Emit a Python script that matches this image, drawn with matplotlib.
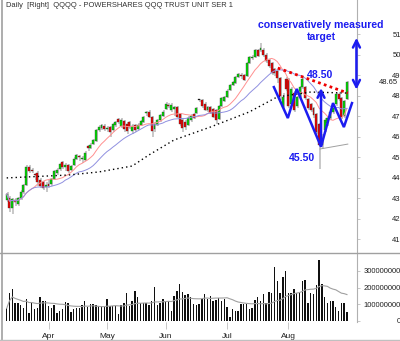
import matplotlib
matplotlib.use("Agg")
import matplotlib.pyplot as plt
import numpy as np
import pandas as pd
from matplotlib.lines import Line2D

plt.rcParams["font.family"] = ["Liberation Sans", "DejaVu Sans"]

# daily bars, QQQQ, mid March -> end of August
opens = [42.9, 43.0, 42.5, 42.9, 42.7, 43.0, 43.3, 43.65, 44.5, 44.35,
         44.15, 44.2, 43.9, 43.8, 43.55, 43.7, 43.7, 43.95, 44.2, 44.4,
         44.75, 44.5, 44.6, 44.35, 44.6, 44.9, 45.05, 44.9, 44.85, 45.55,
         45.45, 45.65, 45.8, 46.3, 46.4, 46.5, 46.35, 46.45, 46.3, 46.55,
         46.85, 46.5, 46.75, 46.6, 46.7, 46.25, 46.55, 46.35, 46.55, 46.7,
         47.15, 47.2, 46.95, 46.35, 46.55, 46.8, 47.0, 47.35, 47.55, 47.3,
         47.35, 47.45, 47.1, 46.8, 46.7, 46.55, 46.8, 47.1, 47.15, 47.78,
         47.8, 47.6, 47.3, 47.45, 47.35, 47.3, 46.85, 47.5, 47.75, 47.95,
         48.25, 48.5, 48.6, 48.9, 49.0, 49.0, 48.95, 49.6, 49.85, 49.9,
         50.2, 50.2, 50.2, 50.0, 49.75, 49.6, 49.3, 49.2, 48.85, 47.45,
         48.8, 48.8, 47.6, 48.1, 47.5, 47.95, 48.4, 48.4, 47.85, 47.6,
         47.4, 47.1, 46.6, 45.6, 46.3, 46.65, 46.9, 47.2, 47.6, 48.05,
         47.9, 47.0, 47.85]
highs = [43.3, 43.1, 43.0, 43.0, 43.05, 43.4, 43.7, 44.6, 44.6, 44.45,
         44.2, 44.3, 44.0, 43.85, 43.8, 43.9, 44.0, 44.35, 44.45, 44.7,
         44.8, 44.7, 44.65, 44.6, 45.0, 45.15, 45.1, 45.05, 45.3, 45.6,
         45.7, 45.9, 46.35, 46.55, 46.6, 46.6, 46.5, 46.5, 46.65, 46.75,
         46.9, 46.9, 46.8, 46.7, 46.75, 46.6, 46.6, 46.65, 46.8, 47.0,
         47.25, 47.3, 47.0, 46.7, 46.85, 47.1, 47.3, 47.7, 47.65, 47.65,
         47.5, 47.5, 47.15, 46.9, 46.8, 47.0, 47.1, 47.15, 47.45, 47.85,
         47.85, 47.7, 47.5, 47.5, 47.4, 47.35, 47.55, 47.95, 48.0, 48.3,
         48.55, 48.7, 48.95, 49.1, 49.1, 49.05, 49.65, 49.95, 50.0, 50.25,
         50.25, 50.55, 50.3, 50.05, 49.8, 49.65, 49.35, 49.25, 48.9, 48.1,
         48.9, 48.85, 48.4, 48.2, 48.0, 48.45, 48.9, 48.45, 47.9, 47.65,
         47.45, 47.15, 46.65, 46.1, 46.9, 47.0, 47.3, 47.6, 48.1, 48.15,
         47.95, 47.8, 48.7]
lows = [42.8, 42.3, 42.2, 42.6, 42.6, 42.9, 43.2, 43.6, 44.2, 44.2,
        43.9, 43.6, 43.5, 43.4, 43.3, 43.5, 43.6, 43.9, 44.1, 44.3,
        44.4, 44.3, 44.2, 44.3, 44.55, 44.85, 44.8, 44.7, 44.8, 45.3,
        45.4, 45.6, 45.75, 46.2, 46.3, 46.25, 46.2, 46.0, 46.2, 46.45,
        46.6, 46.4, 46.2, 46.1, 46.35, 46.1, 46.2, 46.3, 46.5, 46.65,
        47.0, 46.9, 46.0, 46.2, 46.5, 46.7, 46.95, 47.3, 47.4, 47.2,
        47.0, 46.9, 46.5, 46.2, 46.3, 46.5, 46.7, 46.85, 47.1, 47.7,
        47.4, 47.25, 47.2, 47.1, 46.9, 46.6, 46.8, 47.45, 47.7, 47.9,
        48.2, 48.45, 48.55, 48.85, 48.8, 48.7, 48.9, 49.55, 49.75, 49.85,
        49.9, 50.1, 49.9, 49.6, 49.35, 49.0, 48.95, 48.6, 47.8, 47.3,
        48.2, 47.4, 47.5, 47.2, 47.4, 47.9, 48.3, 47.8, 47.3, 47.2,
        46.9, 46.1, 44.4, 45.4, 46.2, 46.5, 46.8, 47.1, 47.5, 47.75,
        46.85, 46.9, 47.8]
closes = [43.2, 42.5, 42.95, 42.8, 43.0, 43.3, 43.65, 44.5, 44.3, 44.3,
          44.1, 43.8, 43.6, 43.5, 43.65, 43.6, 43.95, 44.3, 44.35, 44.65,
          44.5, 44.6, 44.3, 44.55, 44.9, 45.1, 45.0, 44.95, 45.2, 45.45,
          45.6, 45.85, 46.3, 46.45, 46.55, 46.35, 46.4, 46.2, 46.6, 46.7,
          46.7, 46.8, 46.35, 46.25, 46.45, 46.5, 46.3, 46.55, 46.75, 46.95,
          47.2, 46.95, 46.25, 46.6, 46.8, 47.05, 47.2, 47.6, 47.5, 47.55,
          47.45, 46.95, 46.6, 46.4, 46.45, 46.9, 47.0, 46.9, 47.4, 47.8,
          47.5, 47.3, 47.45, 47.15, 46.95, 46.8, 47.5, 47.9, 47.95, 48.2,
          48.5, 48.65, 48.9, 49.05, 48.95, 48.75, 49.6, 49.9, 49.9, 50.2,
          49.95, 50.3, 50.0, 49.7, 49.45, 49.1, 49.1, 48.85, 48.0, 47.95,
          48.3, 47.5, 48.3, 47.3, 47.95, 48.4, 48.8, 47.9, 47.4, 47.3,
          47.05, 46.2, 45.6, 45.9, 46.8, 46.9, 47.2, 47.55, 48.05, 47.85,
          46.95, 47.75, 48.65]
volumes_m = [76, 166, 190, 110, 106, 96, 76, 130, 46, 110,
             70, 76, 142, 122, 118, 92, 76, 96, 50, 60,
             70, 112, 106, 56, 70, 76, 76, 96, 118, 86,
             102, 102, 96, 92, 92, 90, 130, 90, 92, 90,
             40, 96, 110, 170, 92, 118, 178, 146, 110, 110,
             110, 96, 118, 202, 96, 106, 130, 118, 122, 60,
             152, 182, 220, 176, 158, 162, 146, 102, 96, 102,
             130, 162, 130, 150, 122, 126, 136, 118, 130, 86,
             26, 70, 60, 60, 102, 102, 102, 70, 76, 126,
             146, 118, 162, 106, 176, 170, 322, 242, 170, 262,
             302, 170, 166, 190, 166, 166, 242, 246, 110, 170,
             162, 216, 366, 222, 146, 110, 118, 118, 86, 60,
             106, 110, 56]

# 50 day average, read at a few bars (needs history before the window)
ma50_idx = [0, 22, 33, 45, 51, 60, 73, 87, 97, 109, 122]
ma50_val = [43.98, 44.12, 44.27, 44.56, 45.1, 45.83, 46.46, 47.2, 47.93, 48.17, 48.12]

month_idx = [15, 36, 57, 79, 101]
month_names = ["Apr", "May", "Jun", "Jul", "Aug"]
price_ticks = [41, 42, 43, 44, 45, 46, 47, 48, 49, 50, 51]
vol_ticks = [0, 100000000, 200000000, 300000000]
last_close = 48.65

# head & shoulders sketch
pattern_idx = [95.8, 100.8, 104.0, 112.7, 117.0, 120.9, 123.8]
pattern_val = [48.41, 46.90, 48.32, 45.50, 47.63, 46.46, 47.63]
neck_idx = [97.2, 122.3]
neck_val = [49.34, 48.12]
support_idx = [112.3, 122.3]
support_val = [45.39, 45.63]
head_low, head_high = 45.50, 48.50
target_low, target_high = 48.15, 50.95

BLUE = "#1c1cf0"
GREEN = "#00dd00"
RED = "#ee0000"

W, H = 400, 341
fig = plt.figure(figsize=(W / 100, H / 100), dpi=100)


def px_box(x0, y0, x1, y1):
    return [x0 / W, 1 - y1 / H, (x1 - x0) / W, (y1 - y0) / H]


ax = fig.add_axes(px_box(2, 0, 357, 252))
axv = fig.add_axes(px_box(2, 254, 357, 322), sharex=ax)

n = len(closes)
x = np.arange(n)
o = np.array(opens)
c = np.array(closes)
hi = np.array(highs)
lo = np.array(lows)

# candles
ax.vlines(x + 0.35, lo, hi, color="#c4c4c4", lw=1.3, zorder=2)
body_lo = np.minimum(o, c)
body_h = np.maximum(np.abs(c - o), 0.03)
cols = np.where(np.abs(c - o) < 0.04, "black", np.where(c > o, GREEN, RED))
ax.bar(x, body_h, bottom=body_lo, width=0.7, color=cols,
       edgecolor="#303030", linewidth=0.25, zorder=3)

s = pd.Series(closes)
ax.plot(x, s.rolling(10, min_periods=1).mean(), color="#ff9090", lw=0.7, zorder=4)
ax.plot(x, s.rolling(20, min_periods=1).mean(), color="#9090e0", lw=0.7, zorder=4)
ax.plot(ma50_idx, ma50_val, color="black", lw=1.0, ls=(0, (1, 2.2)), zorder=4)

# pattern annotations
blue_txt = dict(color=BLUE, fontsize=7.6, fontweight="bold")
ax.plot(neck_idx, neck_val, color=RED, lw=2.0, ls=(0, (1, 1.2)), zorder=5)
ax.plot(support_idx, support_val, color="#a0a0a0", lw=0.7, zorder=4)
ax.plot(pattern_idx, pattern_val, color=BLUE, lw=1.8, zorder=6,
        solid_joinstyle="miter")
ax.annotate("", xy=(pattern_idx[3], head_high), xytext=(pattern_idx[3], head_low),
            arrowprops=dict(arrowstyle="->,head_length=0.5,head_width=0.25",
                            color=BLUE, lw=1.8), zorder=6)
ax.annotate("", xy=(125.4, target_high), xytext=(125.4, target_low),
            arrowprops=dict(arrowstyle="<->,head_length=0.5,head_width=0.25",
                            color=BLUE, lw=1.8), annotation_clip=False, zorder=6)
ax.text(107.6, 49.0, f"{head_high:.2f}", ha="left", va="center", **blue_txt)
ax.text(110.5, 44.95, f"{head_low:.2f}", ha="right", va="center", **blue_txt)
ax.text(112.5, 51.44, "conservatively measured", ha="center", va="center", **blue_txt)
ax.text(112.7, 50.85, "target", ha="center", va="center", **blue_txt)

ax.set_xlim(-1.68, 125.6)
ax.set_ylim(40.366, 52.659)

# volume
axv.bar(x, np.array(volumes_m) * 1e6, width=0.5, color="#101010", zorder=3)
vma = pd.Series(volumes_m).rolling(20, min_periods=1).mean() * 1e6
axv.plot(x, vma, color="#a0a0a0", lw=0.8, zorder=4)
axv.set_ylim(-6e6, 4.012e8)

for a in (ax, axv):
    for side in ("top", "left", "bottom"):
        a.spines[side].set_visible(False)
    a.spines["right"].set_color("#b0b0b0")
    a.spines["right"].set_linewidth(0.8)
    a.yaxis.tick_right()
    a.tick_params(axis="y", direction="out", length=2, width=0.5,
                  colors="#b0b0b0", labelcolor="#202020", labelsize=5.5, pad=29.5)
ax.spines["right"].set_linestyle((0, (1, 1)))

ax.set_yticks(price_ticks)
ax.set_yticklabels([str(t) for t in price_ticks], ha="right")
axv.set_yticks(vol_ticks)
axv.set_yticklabels([str(t) for t in vol_ticks], ha="right")
ax.text((398 - 2) / 355, last_close, f"{last_close:.2f}", fontsize=5.5,
        color="#202020", ha="right", va="center", clip_on=False,
        transform=ax.get_yaxis_transform())

ax.tick_params(axis="x", bottom=False, labelbottom=False)
axv.set_xticks(month_idx)
axv.set_xticklabels(month_names)
axv.tick_params(axis="x", direction="out", length=5, width=0.5, colors="#b0b0b0",
                labelcolor="#202020", labelsize=6, pad=3)

# panel frame lines
fig.add_artist(Line2D([1.5 / W, 1.5 / W], [0, 1], color="#a0a0a0", lw=1.2))
fig.add_artist(Line2D([0, 1], [1 - 252.5 / H] * 2, color="#a0a0a0", lw=1.0))
fig.add_artist(Line2D([0, 1], [1 - 339.5 / H] * 2, color="#c0c0c0", lw=1.0))

fig.text(6 / W, 1 - 5.5 / H, "Daily  [Right]  QQQQ - POWERSHARES QQQ TRUST UNIT SER 1",
         fontsize=5.4, color="#303030", ha="left", va="center")

fig.savefig("out.png", dpi=100)
